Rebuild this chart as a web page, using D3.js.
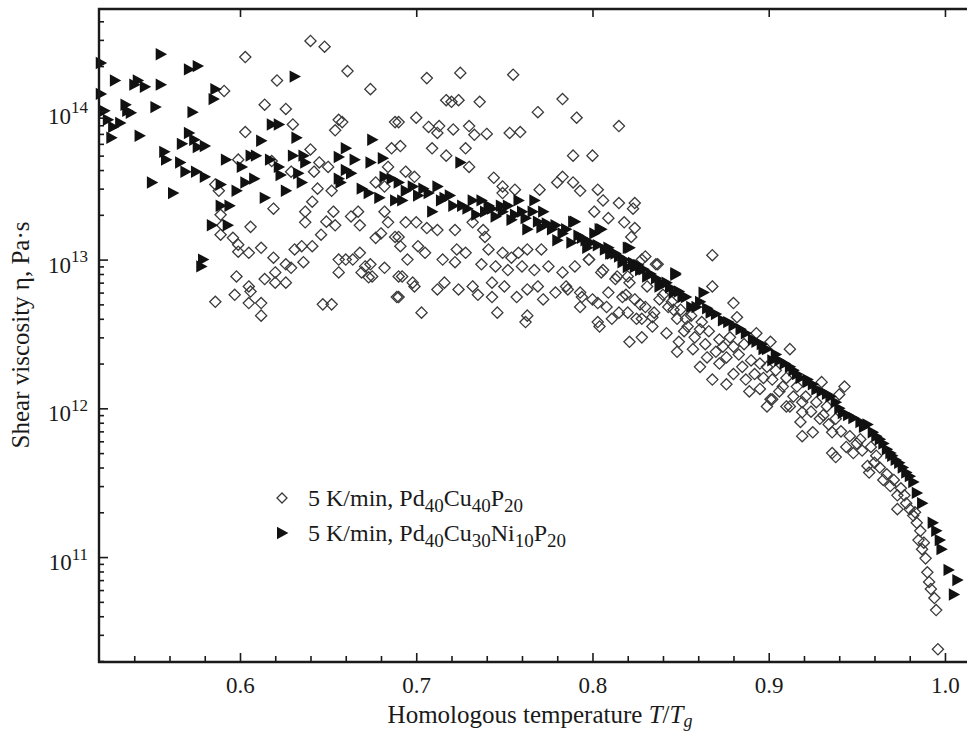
<!DOCTYPE html>
<html><head><meta charset="utf-8">
<script src="https://cdn.jsdelivr.net/npm/d3@7/dist/d3.min.js"></script>
<style>html,body{margin:0;padding:0;background:#fff;}svg{display:block;}</style>
</head><body>
<svg id="chart" width="967" height="736"></svg>
<script>
// ---------- data (T/Tg, shear viscosity in Pa·s) ----------
const seriesNames = ["5 K/min, Pd40Cu40P20", "5 K/min, Pd40Cu30Ni10P20"];
const xMajorTicks = [0.6, 0.7, 0.8, 0.9, 1.0];
const xMinorTicks = [0.54,0.56,0.58,0.62,0.64,0.66,0.68,0.72,0.74,0.76,0.78,0.82,0.84,0.86,0.88,0.92,0.94,0.96,0.98];
const yMajorTicks = [1e11, 1e12, 1e13, 1e14];
const yTickExponents = ["11", "12", "13", "14"];
const xDomain = [0.52, 1.0125];
const yDomain = [1.97e10, 4.84e14];

const pd40cu40p20 = [
[0.640,2.95e14],[0.648,2.7e14],[0.603,2.3e14],[0.621,1.6e14],[0.661,1.85e14],[0.674,1.4e14],[0.591,1.36e14],[0.614,1.1e14],[0.626,1.03e14],[0.630,8.1e13],[0.656,8.7e13],[0.658,8.4e13],[0.654,7.4e13],[0.603,7.2e13],[0.688,8.4e13],[0.640,5.5e13],[0.599,4.7e13],[0.618,4.6e13],[0.629,3.9e13],[0.645,4.5e13],[0.650,4.2e13],[0.642,3.9e13],[0.686,5.6e13],[0.684,4.2e13],[0.586,3.2e13],[0.588,2.9e13],[0.644,3.0e13],[0.652,2.9e13],[0.677,3.3e13],[0.682,3.1e13],[0.641,2.45e13],[0.619,2.2e13],[0.637,2.1e13],[0.637,1.78e13],[0.653,2.1e13],[0.649,1.8e13],[0.654,1.7e13],[0.663,1.95e13],[0.667,2.1e13],[0.668,1.7e13],[0.682,2.1e13],[0.684,1.78e13],[0.680,1.5e13],[0.688,1.42e13],[0.589,2.0e13],[0.590,1.7e13],[0.606,1.66e13],[0.589,1.47e13],[0.596,1.4e13],[0.599,1.26e13],[0.599,1.13e13],[0.605,1.11e13],[0.612,1.2e13],[0.619,1.03e13],[0.626,9.3e12],[0.629,8.8e12],[0.631,1.17e13],[0.635,1.23e13],[0.636,9.6e12],[0.641,1.23e13],[0.646,1.47e13],[0.620,8.2e12],[0.614,7.4e12],[0.620,7.0e12],[0.626,7.0e12],[0.598,7.7e12],[0.605,6.6e12],[0.606,6.1e12],[0.597,5.8e12],[0.586,5.2e12],[0.605,5.1e12],[0.612,5.1e12],[0.612,4.2e12],[0.647,5.0e12],[0.652,5.0e12],[0.656,1.0e13],[0.660,1.0e13],[0.664,1.0e13],[0.656,8.2e12],[0.668,1.11e13],[0.671,9.0e12],[0.674,9.3e12],[0.669,8.2e12],[0.673,7.6e12],[0.675,7.7e12],[0.682,8.8e12],[0.677,1.4e13],[0.689,5.6e12],[0.690,7.7e12],
[0.706,1.66e14],[0.725,1.8e14],[0.755,1.75e14],[0.783,1.2e14],[0.717,1.18e14],[0.724,1.18e14],[0.720,1.15e14],[0.736,1.15e14],[0.769,9.8e13],[0.791,9.0e13],[0.815,7.9e13],[0.700,9.0e13],[0.690,8.4e13],[0.707,7.8e13],[0.713,7.9e13],[0.712,7.1e13],[0.721,7.5e13],[0.730,7.9e13],[0.733,6.9e13],[0.740,7.0e13],[0.753,7.1e13],[0.759,7.2e13],[0.691,5.8e13],[0.709,5.6e13],[0.728,5.6e13],[0.717,5.0e13],[0.730,4.2e13],[0.789,5.0e13],[0.800,5.0e13],[0.694,3.9e13],[0.699,3.6e13],[0.744,3.55e13],[0.749,3.1e13],[0.756,2.95e13],[0.749,2.8e13],[0.783,3.6e13],[0.780,3.3e13],[0.789,3.3e13],[0.793,2.9e13],[0.770,2.95e13],[0.803,2.95e13],[0.806,2.5e13],[0.815,2.4e13],[0.824,2.4e13],[0.823,2.2e13],[0.801,2.1e13],[0.809,1.9e13],[0.818,1.78e13],[0.824,1.63e13],[0.822,1.42e13],[0.830,1.05e13],[0.837,9.3e12],
[0.694,1.78e13],[0.700,1.78e13],[0.706,1.63e13],[0.712,1.58e13],[0.722,1.58e13],[0.732,1.78e13],[0.738,1.58e13],[0.690,1.42e13],[0.691,1.23e13],[0.701,1.23e13],[0.705,1.11e13],[0.723,1.17e13],[0.728,1.11e13],[0.695,1.0e13],[0.715,1.0e13],[0.722,9.6e12],[0.739,1.42e13],[0.741,1.17e13],[0.749,1.11e13],[0.754,1.03e13],[0.758,1.11e13],[0.763,1.17e13],[0.771,1.17e13],[0.737,9.3e12],[0.745,9.0e12],[0.752,8.5e12],[0.760,9.0e12],[0.767,8.5e12],[0.775,9.0e12],[0.783,8.2e12],[0.790,9.0e12],[0.798,1.0e13],[0.805,8.2e12],[0.813,7.4e12],[0.820,7.7e12],[0.692,7.7e12],[0.698,7.0e12],[0.699,6.6e12],[0.690,5.6e12],[0.712,6.3e12],[0.716,7.0e12],[0.724,6.3e12],[0.732,6.6e12],[0.735,5.8e12],[0.743,7.0e12],[0.743,5.6e12],[0.750,6.6e12],[0.757,5.6e12],[0.763,6.3e12],[0.769,6.6e12],[0.772,5.4e12],[0.779,6.0e12],[0.786,6.3e12],[0.794,5.6e12],[0.793,4.8e12],[0.803,5.1e12],[0.809,6.0e12],[0.817,5.6e12],[0.824,5.4e12],[0.830,4.8e12],[0.703,4.4e12],[0.746,4.4e12],[0.762,3.8e12],[0.763,4.2e12],[0.803,3.8e12],[0.811,4.0e12],[0.820,4.4e12],[0.828,4.0e12],[0.835,4.4e12],[0.843,4.8e12],[0.848,4.0e12],[0.854,3.55e12],
[0.868,1.07e13],[0.868,6.6e12],[0.880,5.1e12],[0.882,4.1e12],[0.893,3.2e12],[0.901,2.8e12],[0.912,2.5e12],[0.821,2.8e12],[0.828,3.0e12],[0.804,3.55e12],[0.785,6.6e12],[0.793,6.0e12],[0.800,5.4e12],[0.808,4.8e12],[0.815,4.4e12],[0.825,4.0e12],[0.834,3.55e12],[0.842,3.2e12],[0.849,2.8e12],[0.857,2.5e12],[0.865,2.2e12],[0.872,2.0e12],[0.880,1.7e12],[0.887,1.56e12],[0.895,1.35e12],[0.902,1.15e12],[0.912,1.03e12],[0.919,9.4e11],[0.848,2.4e12],[0.861,1.9e12],[0.868,1.56e12],[0.876,1.45e12],[0.889,1.3e12],[0.899,1.03e12],[0.831,6.6e12],[0.838,5.4e12],[0.846,4.6e12],[0.853,4.0e12],[0.861,3.4e12],[0.872,2.9e12],[0.880,2.6e12],[0.819,5.8e12],[0.827,5.0e12],[0.834,4.1e12],[0.798,1.0e13],[0.806,8.5e12],[0.814,7.7e12],[0.821,7.0e12],[0.828,1.0e13],[0.836,9.3e12],
[0.840,5.8e12],[0.845,5.2e12],[0.850,4.6e12],[0.852,3.3e12],[0.856,4.2e12],[0.858,3.0e12],[0.862,3.8e12],[0.864,2.7e12],[0.866,3.3e12],[0.870,2.4e12],[0.874,2.6e12],[0.876,2.2e12],[0.878,3.0e12],[0.883,2.3e12],[0.885,1.9e12],[0.886,2.7e12],[0.890,2.1e12],[0.892,1.7e12],[0.895,2.0e12],[0.897,1.6e12],[0.904,1.8e12],[0.906,1.3e12],[0.910,1.6e12],[0.914,1.2e12],[0.916,1.4e12],[0.921,1.2e12],[0.924,9.5e11],[0.927,1.1e12],[0.931,9.0e11],[0.934,7.8e11],[0.938,8.5e11],[0.941,7.0e11],[0.946,6.5e11],[0.950,5.8e11],[0.953,5.2e11],[0.958,5.5e11],[0.960,4.3e11],[0.963,4.0e11],[0.967,3.6e11],[0.971,3.3e11],[0.975,2.9e11],[0.977,2.6e11],[0.980,2.1e11],[0.983,2.0e11],[0.986,1.5e11],[0.988,1.25e11],
[0.930,1.5e12],[0.943,1.4e12],[0.940,1.24e12],[0.899,1.9e12],[0.902,1.56e12],[0.908,1.4e12],[0.901,1.15e12],[0.910,1.03e12],[0.919,1.1e12],[0.918,8.1e11],[0.919,6.5e11],[0.925,6.9e11],[0.929,8.5e11],[0.933,1.03e12],[0.936,6.9e11],[0.936,5.0e11],[0.938,4.7e11],[0.944,5.5e11],[0.948,5.0e11],[0.952,6.2e11],[0.956,4.1e11],[0.957,3.7e11],[0.961,4.8e11],[0.965,3.3e11],[0.969,3.0e11],[0.973,2.6e11],[0.973,2.1e11],[0.978,2.3e11],[0.982,1.9e11],[0.984,1.7e11],[0.985,1.3e11],[0.987,1.13e11],[0.989,9.8e10],[0.990,7.9e10],[0.991,6.8e10],[0.992,6.1e10],[0.994,5.3e10],[0.995,4.4e10],[0.996,2.4e10]
];

const pd40cu30ni10p20 = [
[0.521,2.1e14],[0.521,1.3e14],[0.529,1.6e14],[0.523,1.0e14],[0.525,8.7e13],[0.528,7.8e13],[0.532,8.3e13],[0.535,1.1e14],[0.536,1.0e14],[0.538,9.7e13],[0.527,6.6e13],[0.543,6.8e13],[0.540,1.5e14],[0.542,1.6e14],[0.546,1.45e14],[0.555,2.4e14],[0.555,1.5e14],[0.552,1.06e14],[0.571,1.9e14],[0.576,2.0e14],[0.573,9.8e13],[0.586,1.4e14],[0.585,1.2e14],[0.571,7.1e13],[0.574,6.4e13],[0.567,6.0e13],[0.557,5.3e13],[0.558,4.7e13],[0.566,4.5e13],[0.569,3.9e13],[0.576,5.7e13],[0.580,5.8e13],[0.575,3.9e13],[0.580,3.6e13],[0.550,3.3e13],[0.562,2.8e13],[0.592,4.7e13],[0.601,4.2e13],[0.606,5.0e13],[0.609,5.0e13],[0.612,6.3e13],[0.618,8.1e13],[0.622,8.1e13],[0.632,6.6e13],[0.631,1.7e14],[0.617,4.7e13],[0.622,4.2e13],[0.623,3.7e13],[0.589,3.2e13],[0.598,2.9e13],[0.603,3.3e13],[0.608,3.5e13],[0.614,2.6e13],[0.626,2.9e13],[0.635,3.3e13],[0.633,3.8e13],[0.630,5.0e13],[0.636,5.0e13],[0.637,4.5e13],[0.589,2.3e13],[0.594,2.3e13],[0.584,1.7e13],[0.593,1.7e13],[0.579,1.0e13],[0.578,9.0e12],[0.656,4.9e13],[0.660,5.6e13],[0.660,4.0e13],[0.663,3.8e13],[0.657,3.3e13],[0.665,4.7e13],[0.675,6.4e13],[0.674,4.5e13],[0.681,4.8e13],[0.682,3.6e13],[0.686,3.5e13],[0.669,3.0e13],[0.673,2.8e13],[0.679,2.6e13],[0.688,2.5e13],[0.656,3.5e13],
[0.725,4.5e13],[0.690,3.3e13],[0.698,3.1e13],[0.701,2.7e13],[0.692,2.5e13],[0.707,2.8e13],[0.712,3.1e13],[0.716,2.6e13],[0.709,2.1e13],[0.721,2.3e13],[0.726,2.3e13],[0.732,2.5e13],[0.737,2.5e13],[0.741,2.3e13],[0.745,1.95e13],[0.749,2.1e13],[0.752,2.3e13],[0.758,2.5e13],[0.760,2.1e13],[0.767,2.5e13],[0.772,2.1e13],[0.766,2.1e13],[0.754,1.85e13],[0.763,1.6e13],[0.771,1.65e13],[0.777,1.6e13],[0.783,1.5e13],[0.790,1.8e13],[0.780,1.35e13],[0.788,1.3e13],[0.794,1.4e13],[0.801,1.5e13],[0.805,1.6e13],[0.797,1.2e13],[0.807,1.17e13],[0.811,1.1e13],[0.820,1.2e13],[0.817,9.6e12],[0.824,8.9e12],[0.831,7.7e12],[0.839,7.0e12],[0.847,7.9e12],[0.851,5.6e12],[0.856,4.8e12],
[0.789,1.8e13],[0.804,1.6e13],[0.821,1.2e13],[0.810,1.1e13],[0.820,8.9e12],[0.827,8.5e12],[0.847,8.1e12],[0.838,6.6e12],[0.846,6.0e12],[0.863,6.0e12],[0.859,4.8e12],[0.867,4.4e12],[0.874,3.9e12],[0.884,3.4e12],[0.891,2.9e12],[0.899,2.5e12],[0.906,2.1e12],[0.914,1.8e12],[0.922,1.56e12],
[0.897,2.5e12],[0.902,2.1e12],[0.916,1.7e12],[0.922,1.5e12],[0.927,1.34e12],[0.935,1.2e12],[0.942,9.3e11],[0.952,8.1e11],[0.956,7.8e11],[0.959,6.9e11],[0.963,6.2e11],[0.967,5.3e11],[0.970,4.8e11],[0.974,4.3e11],[0.978,3.7e11],[0.982,3.2e11],[0.984,2.7e11],[0.987,2.3e11],[0.993,1.7e11],[0.995,1.5e11],[0.997,1.3e11],[0.998,1.13e11],[1.002,8.2e10],[1.007,7.0e10],[1.005,5.6e10],
[0.694,2.9e13],[0.704,3.0e13],[0.714,2.5e13],[0.719,2.7e13],[0.729,2.2e13],[0.734,2.0e13],[0.739,2.1e13],[0.743,2.2e13],[0.748,2.3e13],[0.756,2.0e13],[0.762,1.9e13],[0.769,1.8e13],[0.774,1.75e13],[0.779,1.7e13],[0.785,1.6e13],[0.792,1.45e13],[0.796,1.35e13],[0.799,1.3e13],[0.803,1.25e13],[0.809,1.2e13],[0.813,1.1e13],[0.815,1.05e13],[0.818,1.0e13],[0.823,9.5e12],[0.826,9.2e12],[0.829,8.6e12],[0.833,8.0e12],[0.836,7.5e12],[0.842,7.0e12],[0.844,6.5e12],[0.849,6.1e12],[0.853,5.6e12],[0.861,5.2e12],[0.865,4.7e12],[0.870,4.3e12],[0.877,3.8e12],[0.880,3.6e12],[0.887,3.2e12],[0.893,2.8e12],[0.896,2.7e12],[0.904,2.3e12],[0.909,2.0e12],[0.912,1.9e12],[0.918,1.6e12],[0.925,1.45e12],[0.930,1.3e12],[0.933,1.25e12],[0.938,1.1e12],[0.940,1.0e12],[0.945,9.0e11],[0.948,8.6e11],[0.954,7.5e11],[0.961,6.5e11],[0.965,5.8e11],[0.969,5.0e11],[0.972,4.5e11],[0.976,4.0e11],[0.980,3.5e11]
];

// ---------- layout ----------
const W = 967, H = 736;
const margin = {left: 99, right: 0, top: 9, bottom: 74};
const FONT = "'Liberation Serif','Times New Roman',Times,serif";
const INK = "#1a1a1a";

const svg = d3.select("#chart");
svg.append("rect").attr("width", W).attr("height", H).attr("fill", "#fff");

const x = d3.scaleLinear().domain(xDomain).range([margin.left, W - margin.right]);
const y = d3.scaleLog().domain(yDomain).range([H - margin.bottom, margin.top]);
const x0 = margin.left, x1 = W - margin.right, y0 = H - margin.bottom, y1 = margin.top;

// markers
const diamondPath = "M0,-5.6L5.6,0L0,5.6L-5.6,0Z";
const trianglePath = "M-5,-6.2L6.4,0L-5,6.2Z";

const plot = svg.append("g");
plot.selectAll("path.d").data(pd40cu40p20).join("path")
  .attr("class", "d")
  .attr("d", diamondPath)
  .attr("transform", d => `translate(${x(d[0])},${y(d[1])})`)
  .attr("fill", "none").attr("stroke", "#3a3a3a").attr("stroke-width", 1.3);
plot.selectAll("path.t").data(pd40cu30ni10p20).join("path")
  .attr("class", "t")
  .attr("d", trianglePath)
  .attr("transform", d => `translate(${x(d[0])},${y(d[1])})`)
  .attr("fill", "#111").attr("stroke", "none");

// ---------- axes ----------
const gx = svg.append("g").attr("transform", `translate(0,${y0})`)
  .call(d3.axisBottom(x).tickValues(xMajorTicks).tickSize(-9).tickPadding(15).tickFormat(d3.format(".1f")));
const gxm = svg.append("g").attr("transform", `translate(0,${y0})`)
  .call(d3.axisBottom(x).tickValues(xMinorTicks).tickSize(-6).tickFormat(""));
const gxt = svg.append("g").attr("transform", `translate(0,${y1})`)
  .call(d3.axisTop(x).tickValues(xMajorTicks).tickSize(-8).tickFormat(""));

const yMinor = [];
for (let e = 10; e <= 14; e++) for (let m = 2; m <= 9; m++) {
  const v = m * Math.pow(10, e);
  if (v >= yDomain[0] && v <= yDomain[1]) yMinor.push(v);
}
const gy = svg.append("g").attr("transform", `translate(${x0},0)`)
  .call(d3.axisLeft(y).tickValues(yMajorTicks).tickSize(-9).tickPadding(11).tickFormat(d => "10"));
const gym = svg.append("g").attr("transform", `translate(${x0},0)`)
  .call(d3.axisLeft(y).tickValues(yMinor).tickSize(-5).tickFormat(""));

[gx, gxm, gxt, gy, gym].forEach(g => {
  g.select(".domain").remove();
  g.selectAll(".tick line").attr("stroke", INK).attr("stroke-width", 1.6);
});
gxm.selectAll(".tick text").remove();
gxt.selectAll(".tick text").remove();
gym.selectAll(".tick text").remove();
gx.selectAll(".tick text").attr("font-family", FONT).attr("font-size", 23).attr("fill", INK);

gy.selectAll(".tick text").each(function(d, i) {
  const t = d3.select(this).text(null).attr("font-family", FONT).attr("fill", INK)
    .attr("dy", "0.55em").attr("font-size", 23);
  t.append("tspan").text("10");
  t.append("tspan").attr("dy", "-0.62em").attr("font-size", 17).text(yTickExponents[i]);
});

// frame lines
svg.append("line").attr("x1", x0).attr("x2", x0).attr("y1", y1 - 1).attr("y2", y0 + 1).attr("stroke", INK).attr("stroke-width", 2.4);
svg.append("line").attr("x1", x0 - 1).attr("x2", x1).attr("y1", y0).attr("y2", y0).attr("stroke", INK).attr("stroke-width", 2.4);
svg.append("line").attr("x1", x0 - 1).attr("x2", x1).attr("y1", y1).attr("y2", y1).attr("stroke", INK).attr("stroke-width", 2.4);

// ---------- axis titles ----------
const xt = svg.append("text").attr("x", 540).attr("y", 723).attr("text-anchor", "middle")
  .attr("font-family", FONT).attr("font-size", 25).attr("fill", INK);
xt.append("tspan").text("Homologous temperature ");
xt.append("tspan").attr("font-style", "italic").text("T");
xt.append("tspan").text("/");
xt.append("tspan").attr("font-style", "italic").text("T");
xt.append("tspan").attr("font-style", "italic").attr("font-size", 18).attr("dy", 4).text("g");

svg.append("text").attr("transform", "translate(29,335) rotate(-90)").attr("text-anchor", "middle")
  .attr("font-family", FONT).attr("font-size", 25).attr("fill", INK)
  .text("Shear viscosity η, Pa·s");

// ---------- legend ----------
function addFormula(textSel, parts) {
  let shifted = false;
  parts.forEach(p => {
    const ts = textSel.append("tspan").text(p.t);
    if (p.sub) { ts.attr("font-size", 19).attr("dy", 6); shifted = true; }
    else if (shifted) { ts.attr("dy", -6); shifted = false; }
  });
}
const legend = svg.append("g").attr("font-family", FONT).attr("font-size", 24).attr("fill", INK);
legend.append("path").attr("d", "M0,-5L5,0L0,5L-5,0Z").attr("transform", "translate(282,498)")
  .attr("fill", "none").attr("stroke", "#3a3a3a").attr("stroke-width", 1.3);
legend.append("path").attr("d", trianglePath).attr("transform", "translate(282,533)").attr("fill", "#111");
const l1 = legend.append("text").attr("x", 308).attr("y", 506);
addFormula(l1, [{t: "5 K/min, Pd"}, {t: "40", sub: 1}, {t: "Cu"}, {t: "40", sub: 1}, {t: "P"}, {t: "20", sub: 1}]);
const l2 = legend.append("text").attr("x", 308).attr("y", 541);
addFormula(l2, [{t: "5 K/min, Pd"}, {t: "40", sub: 1}, {t: "Cu"}, {t: "30", sub: 1}, {t: "Ni"}, {t: "10", sub: 1}, {t: "P"}, {t: "20", sub: 1}]);
</script>
</body></html>
